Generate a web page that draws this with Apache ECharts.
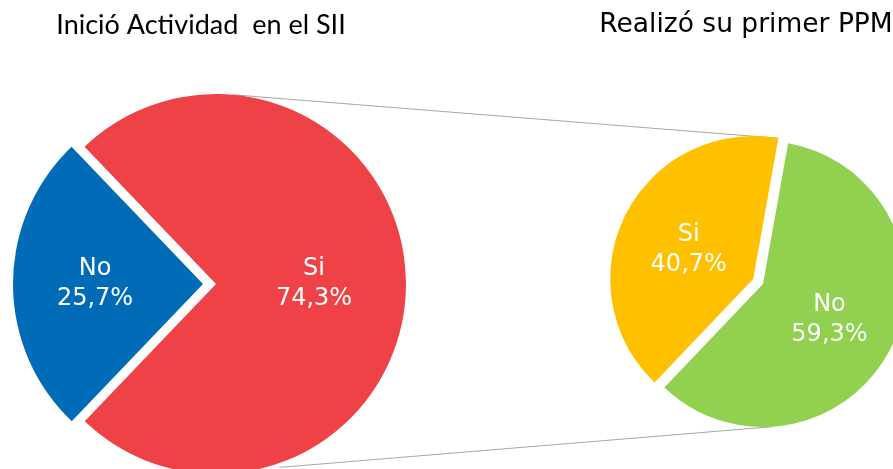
<!DOCTYPE html>
<html>
<head>
<meta charset="utf-8">
<script src="https://cdn.jsdelivr.net/npm/echarts@6/dist/echarts.min.js"></script>
<style>
html,body{margin:0;padding:0;background:#fff;}
#chart{width:893px;height:469px;}
</style>
</head>
<body>
<div id="chart"></div>
<script>
// ---- data ----
const leftTitle = 'Inició Actividad  en el SII';
const rightTitle = 'Realizó su primer PPM';
const leftCategories = ['No', 'Si'];
const leftValues = [25.7, 74.3];
const rightCategories = ['Si', 'No'];
const rightValues = [40.7, 59.3];

// ---- layout / style ----
const leftColors = ['#006CB7', '#EF4246'];
const rightColors = ['#FFC000', '#92D050'];
const L = { cx: 216, cy: 284, r: 190, off: 13, start: 226.3 };
const R = { cx: 763, cy: 284, r: 143, off: 11, start: 226.4 };

function fmt(p) {
  return p.name + '\n' + p.value.toFixed(1).replace('.', ',') + '%';
}
function pt(c, r, deg, dx, dy) {
  const a = deg * Math.PI / 180;
  return [c.cx + (dx || 0) + r * Math.cos(a), c.cy + (dy || 0) - r * Math.sin(a)];
}

const labelStyle = {
  show: true,
  position: 'inside',
  formatter: fmt,
  color: '#fff',
  fontFamily: 'DejaVu Sans',
  fontSize: 24,
  lineHeight: 30
};

function pieSeries(cats, vals, colors, geo, selIdx, labelShift) {
  return {
    type: 'pie',
    center: [geo.cx, geo.cy],
    radius: geo.r,
    startAngle: geo.start,
    clockwise: true,
    selectedMode: 'multiple',
    selectedOffset: geo.off,
    avoidLabelOverlap: false,
    animation: false,
    silent: true,
    emphasis: { disabled: true },
    label: labelStyle,
    labelLine: { show: false },
    labelLayout: function (p) {
      const s = labelShift[p.dataIndex] || [0, 0];
      return { dx: s[0], dy: s[1] };
    },
    itemStyle: { borderWidth: 0 },
    data: cats.map((c, i) => ({
      name: c,
      value: vals[i],
      selected: i === selIdx,
      itemStyle: { color: colors[i] }
    }))
  };
}

// connector lines from left pie to right pie (derived from pie geometry)
const rTot = rightValues[0] + rightValues[1];
const ySpan = 360 * rightValues[0] / rTot;
const yMid = (R.start - ySpan / 2) * Math.PI / 180;
const yEnd = R.start - ySpan;
const ySel = { dx: R.off * Math.cos(yMid), dy: -R.off * Math.sin(yMid) };
const t1 = pt(L, L.r, 85), t2 = pt(R, R.r, yEnd, ySel.dx, ySel.dy);
const b1 = pt(L, L.r + 4, -71), b2 = pt(R, R.r, -86);

const chart = echarts.init(document.getElementById('chart'), null, { renderer: 'canvas' });
chart.setOption({
  backgroundColor: '#fff',
  animation: false,
  graphic: [
    { type: 'line', z: 0, shape: { x1: t1[0], y1: t1[1], x2: t2[0], y2: t2[1] }, style: { stroke: '#A6A6A6', lineWidth: 1 } },
    { type: 'line', z: 0, shape: { x1: b1[0], y1: b1[1], x2: b2[0], y2: b2[1] }, style: { stroke: '#A6A6A6', lineWidth: 1 } },
    { type: 'text', x: 201, y: 25, style: { text: leftTitle, fill: '#000', font: '27px Lato', textAlign: 'center', textVerticalAlign: 'middle' } },
    { type: 'text', x: 746, y: 25, style: { text: rightTitle, fill: '#000', font: '26.5px "DejaVu Sans"', textAlign: 'center', textVerticalAlign: 'middle' } }
  ],
  series: [
    pieSeries(leftCategories, leftValues, leftColors, L, 0, [[-10, 0], [0, 0]]),
    pieSeries(rightCategories, rightValues, rightColors, R, 0, [[2, 4], [0, 2]])
  ]
});
</script>
</body>
</html>
